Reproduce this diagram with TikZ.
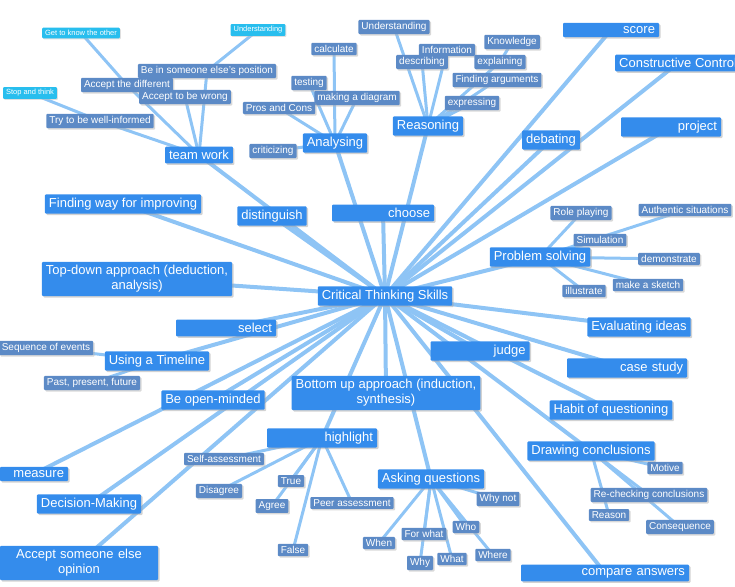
\documentclass[tikz,border=0pt]{standalone}
\usepackage{fontspec}
\setmainfont{Liberation Sans}
\usetikzlibrary{positioning, shadows, backgrounds}
\definecolor{mapblue}{RGB}{52, 140, 236}
\definecolor{subblue}{RGB}{92, 138, 198}
\definecolor{tipcyan}{RGB}{40, 190, 238}
\definecolor{linkblue}{RGB}{142, 196, 245}

\tikzset{
  mainbox/.style={fill=mapblue, text=white, inner xsep=4pt, inner ysep=3.5pt,
    font=\fontsize{13}{15}\selectfont, align=center, rounded corners=1pt,
    drop shadow={shadow xshift=1.5pt, shadow yshift=-1.5pt, fill=black!35}},
  widebox/.style={mainbox, text width=#1, align=right},
  subbox/.style={fill=subblue, text=white, inner xsep=3pt, inner ysep=2.5pt,
    font=\fontsize{10}{12}\selectfont, rounded corners=1pt,
    drop shadow={shadow xshift=1.5pt, shadow yshift=-1.5pt, fill=black!30}},
  tipbox/.style={fill=tipcyan, text=white, inner xsep=3pt, inner ysep=2.5pt,
    font=\fontsize{7.5}{9}\selectfont, rounded corners=1pt,
    drop shadow={shadow xshift=1pt, shadow yshift=-1pt, fill=black!25}},
  link/.style={draw=linkblue, line width=4pt},
  twig/.style={draw=linkblue, line width=3pt}
}

\begin{document}
\begin{tikzpicture}[x=1pt, y=-1pt]
  \useasboundingbox (0,0) rectangle (735,586);

  % centre
  \node[mainbox] (cts) at (385,296) {Critical Thinking Skills};

  % main branches
  \node[mainbox] (teamwork) at (199,155) {team work};
  \node[mainbox] (analysing) at (335,143) {Analysing};
  \node[mainbox] (reasoning) at (428,126) {Reasoning};
  \node[widebox=88pt] (score) at (611,30) {score};
  \node[mainbox, anchor=west] (control) at (615,63) {Constructive Control};
  \node[widebox=92pt] (project) at (671,127) {project};
  \node[mainbox] (debating) at (551,140) {debating};
  \node[widebox=94pt] (choose) at (383,213) {choose};
  \node[mainbox] (distinguish) at (272,216) {distinguish};
  \node[mainbox] (improving) at (123,204) {Finding way for improving};
  \node[mainbox] (topdown) at (137,279) {Top-down approach (deduction,\\analysis)};
  \node[mainbox] (problem) at (540,257) {Problem solving};
  \node[widebox=92pt] (select) at (226,328) {select};
  \node[mainbox] (evaluating) at (639,327) {Evaluating ideas};
  \node[mainbox] (timeline) at (157,361) {Using a Timeline};
  \node[widebox=91pt] (judge) at (480,351) {judge};
  \node[widebox=112pt] (casestudy) at (627,368) {case study};
  \node[mainbox] (bottomup) at (386,393) {Bottom up approach (induction,\\synthesis)};
  \node[mainbox] (openminded) at (213,400) {Be open-minded};
  \node[mainbox] (habit) at (611,410) {Habit of questioning};
  \node[widebox=102pt] (highlight) at (322,438) {highlight};
  \node[mainbox] (drawing) at (591,451) {Drawing conclusions};
  \node[widebox=60pt] (measure) at (34,474) {measure};
  \node[mainbox] (asking) at (431,479) {Asking questions};
  \node[mainbox] (decision) at (89,504) {Decision-Making};
  \node[mainbox, text width=150pt] (acceptopinion) at (79,563) {Accept someone else\\opinion};
  \node[widebox=160pt] (compare) at (605,573) {compare answers};

  % team work
  \node[subbox] (position) at (207,71) {Be in someone else's position};
  \node[subbox] (different) at (127,85) {Accept the different};
  \node[subbox] (wrong) at (185,97) {Accept to be wrong};
  \node[subbox] (informed) at (100,121) {Try to be well-informed};
  \node[tipbox] (knowother) at (81,33) {Get to know the other};
  \node[tipbox] (understandtip) at (258,30) {Understanding};
  \node[tipbox] (stopthink) at (30,93) {Stop and think};

  % analysing
  \node[subbox] (calculate) at (334,49) {calculate};
  \node[subbox] (testing) at (309,83) {testing};
  \node[subbox] (diagram) at (357,98) {making a diagram};
  \node[subbox] (proscons) at (279,108) {Pros and Cons};
  \node[subbox] (criticizing) at (273,151) {criticizing};

  % reasoning
  \node[subbox] (understanding) at (394,27) {Understanding};
  \node[subbox] (information) at (447,50) {Information};
  \node[subbox] (knowledge) at (512,42) {Knowledge};
  \node[subbox] (describing) at (422,62) {describing};
  \node[subbox] (explaining) at (500,62) {explaining};
  \node[subbox] (arguments) at (497,80) {Finding arguments};
  \node[subbox] (expressing) at (472,103) {expressing};

  % problem solving
  \node[subbox] (roleplay) at (581,213) {Role playing};
  \node[subbox] (authentic) at (685,210) {Authentic situations};
  \node[subbox] (simulation) at (600,240) {Simulation};
  \node[subbox] (demonstrate) at (669,259) {demonstrate};
  \node[subbox] (illustrate) at (584,291) {illustrate};
  \node[subbox] (sketch) at (648,285) {make a sketch};

  % timeline
  \node[subbox] (sequence) at (46,348) {Sequence of events};
  \node[subbox] (pastfuture) at (92,383) {Past, present, future};

  % highlight
  \node[subbox] (selfassess) at (224,459) {Self-assessment};
  \node[subbox] (true) at (291,481) {True};
  \node[subbox] (disagree) at (219,491) {Disagree};
  \node[subbox] (agree) at (272,506) {Agree};
  \node[subbox] (peer) at (352,503) {Peer assessment};
  \node[subbox] (false) at (293,550) {False};

  % asking questions
  \node[subbox] (whynot) at (498,499) {Why not};
  \node[subbox] (who) at (466,527) {Who};
  \node[subbox] (forwhat) at (424,534) {For what};
  \node[subbox] (when) at (379,543) {When};
  \node[subbox] (what) at (452,559) {What};
  \node[subbox] (where) at (493,555) {Where};
  \node[subbox] (why) at (420,563) {Why};

  % drawing conclusions
  \node[subbox] (motive) at (665,468) {Motive};
  \node[subbox] (rechecking) at (649,495) {Re-checking conclusions};
  \node[subbox] (reason) at (609,515) {Reason};
  \node[subbox] (consequence) at (680,527) {Consequence};

  \begin{pgfonlayer}{background}
    \foreach \b in {teamwork, analysing, reasoning, score, control, project,
        debating, choose, distinguish, improving, topdown, problem, select,
        evaluating, timeline, judge, casestudy, bottomup, openminded, habit,
        highlight, drawing, measure, asking, decision, acceptopinion, compare}
      \draw[link] (cts.center) -- (\b.center);
    \foreach \a/\b in {teamwork/position, teamwork/different, teamwork/wrong,
        teamwork/informed, position/understandtip, different/knowother,
        informed/stopthink,
        analysing/calculate, analysing/testing, analysing/diagram,
        analysing/proscons, analysing/criticizing,
        reasoning/understanding, reasoning/information, reasoning/describing,
        reasoning/explaining, reasoning/arguments, reasoning/expressing,
        explaining/knowledge,
        problem/roleplay, problem/authentic, problem/simulation,
        problem/demonstrate, problem/illustrate, problem/sketch,
        timeline/sequence, timeline/pastfuture,
        highlight/selfassess, highlight/true, highlight/disagree,
        highlight/agree, highlight/peer, highlight/false,
        asking/whynot, asking/who, asking/forwhat, asking/when,
        asking/what, asking/where, asking/why,
        drawing/motive, drawing/rechecking, drawing/reason, drawing/consequence}
      \draw[twig] (\a.center) -- (\b.center);
  \end{pgfonlayer}
\end{tikzpicture}
\end{document}
